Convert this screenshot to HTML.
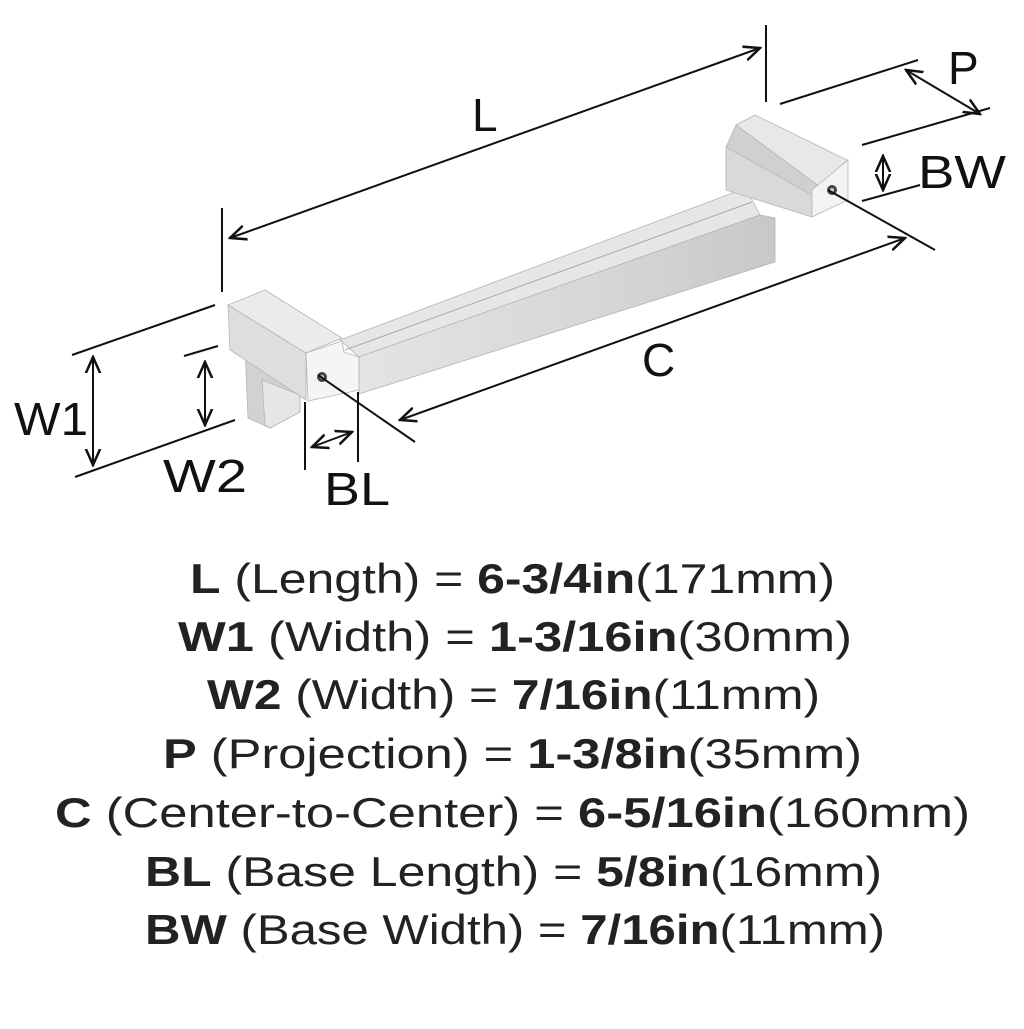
<!DOCTYPE html>
<html><head><meta charset="utf-8"><style>
html,body{margin:0;padding:0;background:#fff;}
body{width:1024px;height:1024px;overflow:hidden;font-family:"Liberation Sans",sans-serif;}
</style></head><body>
<svg width="1024" height="1024" viewBox="0 0 1024 1024" xmlns="http://www.w3.org/2000/svg">
<defs>
<marker id="a" viewBox="0 0 10 10" refX="9" refY="5" markerWidth="9" markerHeight="9" orient="auto-start-reverse"><path d="M0,1 L9,5 L0,9" fill="none" stroke="#111" stroke-width="1.4"/></marker>
<linearGradient id="bf" x1="0" y1="0" x2="1" y2="0"><stop offset="0" stop-color="#e4e4e4"/><stop offset="0.6" stop-color="#d6d6d6"/><stop offset="1" stop-color="#c8c8c8"/></linearGradient>
</defs>
<g stroke="#b5b5b5" stroke-width="0.8">
<!-- bar -->
<polygon points="340,340 746,188 760,215 359,357" fill="#e6e6e6"/>
<polygon points="359,357 760,215 775,218 775,262 359,394" fill="url(#bf)"/>
<line x1="345" y1="350" x2="752" y2="202" stroke="#999"/>
<!-- left leg -->
<polygon points="245,345 300,372 300,412 270,428 248,418" fill="#d2d2d2"/>
<polygon points="262,380 300,395 300,412 270,428 265,425" fill="#e6e6e6"/>
<!-- left block -->
<polygon points="228,305 306,353 306,400 230,350" fill="#dedede"/>
<polygon points="228,305 265,290 342,338 306,353" fill="#ebebeb"/>
<polygon points="306,353 342,341 344,352 359,357 359,390 308,401" fill="#f5f5f5"/>
<!-- right block -->
<polygon points="726,147 812,190 812,217 726,190" fill="#d9d9d9"/>
<polygon points="736,125 755,115 847,160 820,187" fill="#e8e8e8"/>
<polygon points="726,147 736,125 820,187 812,195" fill="#d0d0d0"/>
<polygon points="812,190 848,160 848,200 812,217" fill="#f3f3f3"/>
</g>
<circle cx="322" cy="377" r="5" fill="#444"/><circle cx="322" cy="377" r="2" fill="#ccc"/>
<circle cx="832" cy="190" r="5" fill="#444"/><circle cx="832" cy="190" r="2" fill="#ccc"/>
<g stroke="#111" stroke-width="2" fill="none">
<line x1="222" y1="208" x2="222" y2="292"/>
<line x1="766" y1="25" x2="766" y2="102"/>
<line x1="230" y1="238" x2="760" y2="48" marker-start="url(#a)" marker-end="url(#a)"/>
<line x1="780" y1="104" x2="918" y2="60"/>
<line x1="862" y1="145" x2="990" y2="108"/>
<line x1="906" y1="70" x2="980" y2="114" marker-start="url(#a)" marker-end="url(#a)"/>
<line x1="862" y1="201" x2="920" y2="185"/>
<line x1="883" y1="156" x2="883" y2="190" marker-start="url(#a)" marker-end="url(#a)"/>
<line x1="318" y1="375" x2="415" y2="442"/>
<line x1="828" y1="190" x2="935" y2="250"/>
<line x1="400" y1="420" x2="905" y2="238" marker-start="url(#a)" marker-end="url(#a)"/>
<line x1="72" y1="355" x2="215" y2="305"/>
<line x1="75" y1="477" x2="235" y2="420"/>
<line x1="93" y1="357" x2="93" y2="465" marker-start="url(#a)" marker-end="url(#a)"/>
<line x1="184" y1="356" x2="218" y2="346"/>
<line x1="205" y1="362" x2="205" y2="425" marker-start="url(#a)" marker-end="url(#a)"/>
<line x1="305" y1="402" x2="305" y2="470"/>
<line x1="358" y1="392" x2="358" y2="462"/>
<line x1="312" y1="447" x2="352" y2="432" marker-start="url(#a)" marker-end="url(#a)"/>
</g>
<g font-family="Liberation Sans, sans-serif" font-size="46" fill="#111">
<text x="472" y="131">L</text>
<text x="948" y="84">P</text>
<text x="918" y="188" textLength="88" lengthAdjust="spacingAndGlyphs">BW</text>
<text x="642" y="376">C</text>
<text x="14" y="435" textLength="74" lengthAdjust="spacingAndGlyphs">W1</text>
<text x="163" y="492" textLength="84" lengthAdjust="spacingAndGlyphs">W2</text>
<text x="324" y="505" textLength="66" lengthAdjust="spacingAndGlyphs">BL</text>
</g>
<g font-family="Liberation Sans, sans-serif" font-size="42" fill="#222">
<text x="190" y="593" textLength="645" lengthAdjust="spacingAndGlyphs"><tspan font-weight="bold">L</tspan> (Length) = <tspan font-weight="bold">6-3/4in</tspan>(171mm)</text>
<text x="178" y="651" textLength="674" lengthAdjust="spacingAndGlyphs"><tspan font-weight="bold">W1</tspan> (Width) = <tspan font-weight="bold">1-3/16in</tspan>(30mm)</text>
<text x="207" y="709" textLength="613" lengthAdjust="spacingAndGlyphs"><tspan font-weight="bold">W2</tspan> (Width) = <tspan font-weight="bold">7/16in</tspan>(11mm)</text>
<text x="163" y="768" textLength="699" lengthAdjust="spacingAndGlyphs"><tspan font-weight="bold">P</tspan> (Projection) = <tspan font-weight="bold">1-3/8in</tspan>(35mm)</text>
<text x="55" y="827" textLength="915" lengthAdjust="spacingAndGlyphs"><tspan font-weight="bold">C</tspan> (Center-to-Center) = <tspan font-weight="bold">6-5/16in</tspan>(160mm)</text>
<text x="145" y="886" textLength="737" lengthAdjust="spacingAndGlyphs"><tspan font-weight="bold">BL</tspan> (Base Length) = <tspan font-weight="bold">5/8in</tspan>(16mm)</text>
<text x="145" y="944" textLength="740" lengthAdjust="spacingAndGlyphs"><tspan font-weight="bold">BW</tspan> (Base Width) = <tspan font-weight="bold">7/16in</tspan>(11mm)</text>
</g>
</svg>
</body></html>
